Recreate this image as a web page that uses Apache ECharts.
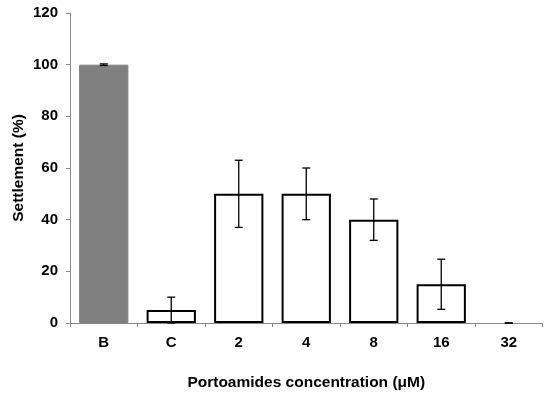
<!DOCTYPE html>
<html>
<head>
<meta charset="utf-8">
<script src="https://cdn.jsdelivr.net/npm/echarts@6/dist/echarts.min.js"></script>
<style>html,body{margin:0;padding:0;background:#fff}#c{width:550px;height:398px}</style>
</head>
<body>
<div id="c"></div>
<script>
var categories = ['B', 'C', '2', '4', '8', '16', '32'];
var values = [100, 5, 50, 50, 40, 15, 0];
var errors = [0.3, 5, 13, 10, 8, 9.7, 0];
var yTicks = [0, 20, 40, 60, 80, 100, 120];

var chart = echarts.init(document.getElementById('c'));
var font = 'Liberation Sans, Arial, sans-serif';
var barData = values.map(function (v, i) {
  if (i === 0) {
    return { value: v, itemStyle: { color: '#808080', borderColor: '#808080', borderWidth: 1 } };
  }
  if (v === 0) {
    return { value: v, itemStyle: { borderWidth: 0 } };
  }
  return v;
});
var errData = values.map(function (v, i) { return [i, v - errors[i], v + errors[i]]; });

chart.setOption({
  animation: false,
  grid: { left: 70, right: 7.5, top: 13, bottom: 75 },
  xAxis: {
    type: 'category',
    data: categories,
    name: 'Portoamides concentration (μM)',
    nameLocation: 'middle',
    nameGap: 52,
    nameTextStyle: { fontFamily: font, fontWeight: 'bold', fontSize: 15.5, color: '#000' },
    axisLine: { lineStyle: { color: '#888', width: 1 } },
    axisTick: { show: true, lineStyle: { color: '#888' }, length: 4 },
    axisLabel: { fontFamily: font, fontWeight: 'bold', fontSize: 15, color: '#000', margin: 12 }
  },
  yAxis: {
    type: 'value',
    min: 0, max: 120, interval: 20,
    name: 'Settlement (%)',
    nameLocation: 'middle',
    nameGap: 43,
    nameMoveOverlap: false,
    nameTextStyle: { fontFamily: font, fontWeight: 'bold', fontSize: 15.5, color: '#000' },
    splitLine: { show: false },
    axisLine: { show: true, lineStyle: { color: '#888', width: 1 } },
    axisTick: { show: true, lineStyle: { color: '#888' }, length: 4 },
    axisLabel: { fontFamily: font, fontWeight: 'bold', fontSize: 15, color: '#000', margin: 12,
      formatter: function (v) { return yTicks.indexOf(v) >= 0 ? String(v) : ''; } }
  },
  series: [
    {
      type: 'bar',
      data: barData,
      barCategoryGap: '27%',
      itemStyle: { color: '#ffffff', borderColor: '#000', borderWidth: 2 }
    },
    {
      type: 'custom',
      data: errData,
      z: 10,
      renderItem: function (params, api) {
        var x = api.value(0);
        var lo = api.coord([x, api.value(1)]);
        var hi = api.coord([x, api.value(2)]);
        var w = 4;
        var style = { stroke: '#000', lineWidth: 1.3 };
        return {
          type: 'group',
          children: [
            { type: 'line', shape: { x1: lo[0], y1: lo[1], x2: hi[0], y2: hi[1] }, style: style },
            { type: 'line', shape: { x1: hi[0] - w, y1: hi[1], x2: hi[0] + w, y2: hi[1] }, style: style },
            { type: 'line', shape: { x1: lo[0] - w, y1: lo[1], x2: lo[0] + w, y2: lo[1] }, style: style }
          ]
        };
      }
    }
  ]
});
</script>
</body>
</html>
